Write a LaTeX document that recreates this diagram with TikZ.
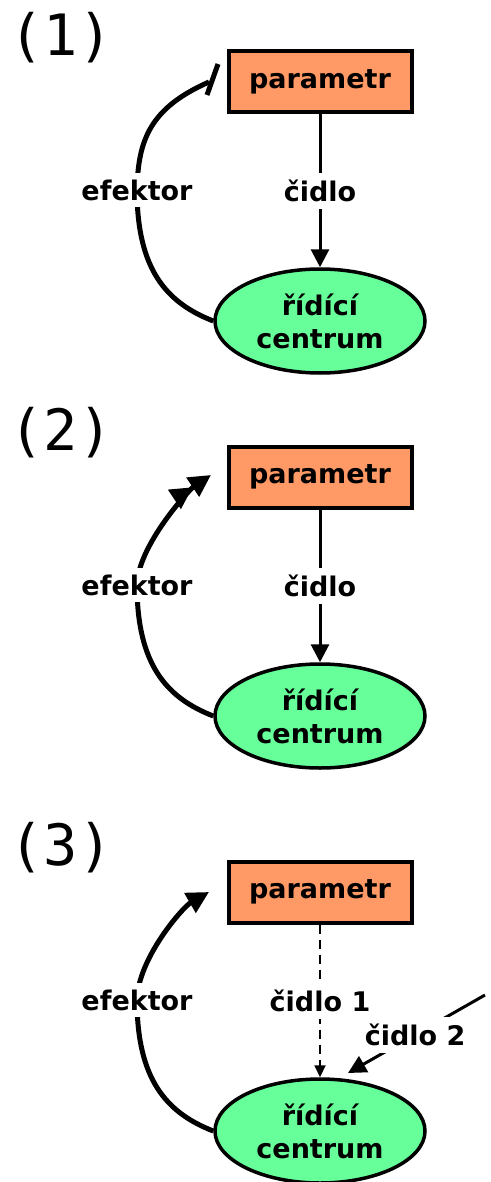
\documentclass[tikz,border=0pt]{standalone}
\usepackage{fontspec}
\setmainfont{DejaVu Sans}
\newfontfamily\tagfont{DejaVu Sans Mono}
\usepackage{tikz}
\usetikzlibrary{shapes, arrows.meta, positioning}

\definecolor{paramcol}{RGB}{255,153,102}
\definecolor{centrecol}{RGB}{102,255,153}

\tikzset{
  parambox/.style={draw, line width=4pt, fill=paramcol, minimum width=183pt, minimum height=61pt, inner sep=0pt, font=\fontsize{27}{30}\selectfont\bfseries},
  centrebox/.style={ellipse, draw, line width=3.5pt, fill=centrecol, minimum width=210pt, minimum height=104pt, inner sep=0pt, align=center, font=\fontsize{27}{33}\selectfont\bfseries},
  cue/.style={fill=white, inner sep=7pt, font=\fontsize{27}{30}\selectfont\bfseries},
  paneltag/.style={inner sep=0pt, font=\fontsize{57}{60}\selectfont\tagfont},
  efect/.style={line width=5pt},
  sense/.style={line width=3pt, -{Triangle[length=18pt,width=18pt]}},
}

\begin{document}
\begin{tikzpicture}[x=1pt, y=-1pt]
  \useasboundingbox (0,0) rectangle (490,1182);
  % (1)
  \begin{scope}
    \node[paneltag] (n1) at (61,38) {(1)};
    \node[parambox] (p1) at (320,82) {parametr};
    \node[centrebox] (c1) at (320,321) {řídící\\centrum};
    \draw[sense] (p1) -- node[cue] (s1) {čidlo} (c1);
    \coordinate (t1) at (209,82);
    \coordinate (b1a) at (207,95);
    \coordinate (b1b) at (218,64);
    \draw[efect] (c1.west) .. controls (167,303) and (137,270) .. (137,190)
      node[cue] (e1) {efektor}
      .. controls (138,140) and (150,108) .. (t1);
    \draw[efect] (b1a) -- (b1b);
  \end{scope}
  % (2)
  \begin{scope}[yshift=-395pt]
    \node[paneltag] (n2) at (61,38) {(2)};
    \node[parambox] (p2) at (320,82) {parametr};
    \node[centrebox] (c2) at (320,321) {řídící\\centrum};
    \draw[sense] (p2) -- node[cue] (s2) {čidlo} (c2);
    \coordinate (t2) at (211,80);
    \draw[efect, -{Triangle[length=22pt,width=22pt] Triangle[length=22pt,width=22pt]}]
      (c2.west) .. controls (167,303) and (137,270) .. (137,190)
      node[cue] (e2) {efektor}
      .. controls (138,150) and (190,94) .. (t2);
  \end{scope}
  % (3)
  \begin{scope}[yshift=-810pt]
    \node[paneltag] (n3) at (61,38) {(3)};
    \node[parambox] (p3) at (320,82) {parametr};
    \node[centrebox] (c3) at (320,321) {řídící\\centrum};
    \draw[sense, line width=2pt, dash pattern=on 9pt off 6pt, -{Triangle[length=12pt,width=11pt]}]
      (p3) -- node[cue] (s31) {čidlo 1} (c3);
    \coordinate (q3) at (485,185);
    \coordinate (k3) at (348,263);
    \draw[sense] (q3) -- node[cue, pos=0.51] (s32) {čidlo 2} (k3);
    \coordinate (t3) at (209,82);
    \draw[efect, -{Triangle[length=22pt,width=22pt]}]
      (c3.west) .. controls (167,303) and (137,270) .. (137,190)
      node[cue] (e3) {efektor}
      .. controls (138,148) and (183,97) .. (t3);
  \end{scope}
\end{tikzpicture}
\end{document}
